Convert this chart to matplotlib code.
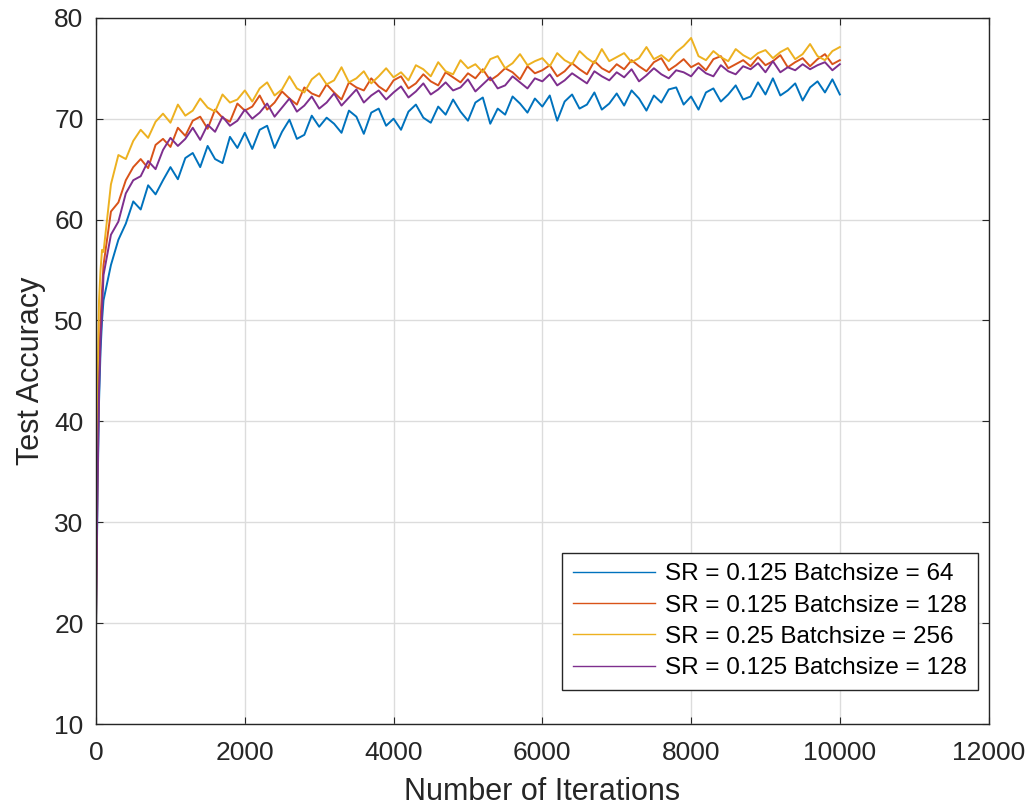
#coding:utf-8

#
# test accuracy vs number of iterations, four training settings (MATLAB style figure)
#

import numpy as np
import matplotlib
matplotlib.use('Agg')
from matplotlib import pyplot as plt

# iterations: dense start, then every 100
iters_start = [0, 20, 40, 60, 80]
iters_main = list(range(100, 10001, 100))
iters = iters_start + iters_main

labels = ['SR = 0.125 Batchsize = 64',
	'SR = 0.125 Batchsize = 128',
	'SR = 0.25 Batchsize = 256',
	'SR = 0.125 Batchsize = 128']
colors = ['#0072BD', '#D95319', '#EDB120', '#7E2F8E']

# SR = 0.125, batchsize 64
acc_64 = [20.0, 33.0, 42.0, 47.0, 50.0,
	52.0, 55.5, 58.0, 59.6, 61.8, 61.0, 63.4, 62.5, 63.9, 65.2,
	64.0, 66.1, 66.6, 65.2, 67.3, 66.0, 65.6, 68.2, 67.1, 68.6,
	67.0, 68.9, 69.3, 67.1, 68.7, 69.9, 68.0, 68.4, 70.3, 69.2,
	70.1, 69.5, 68.6, 70.8, 70.2, 68.5, 70.6, 71.0, 69.3, 70.0,
	68.9, 70.7, 71.4, 70.1, 69.6, 71.2, 70.4, 71.9, 70.7, 69.8,
	71.6, 72.1, 69.5, 71.0, 70.4, 72.2, 71.5, 70.6, 72.0, 71.2,
	72.3, 69.8, 71.7, 72.4, 71.0, 71.4, 72.6, 70.9, 71.5, 72.5,
	71.3, 72.8, 72.0, 70.8, 72.3, 71.6, 72.9, 73.1, 71.4, 72.2,
	70.9, 72.6, 73.0, 71.7, 72.4, 73.3, 71.9, 72.2, 73.6, 72.4,
	74.0, 72.3, 72.8, 73.5, 71.8, 73.1, 73.7, 72.6, 73.9, 72.4]

# SR = 0.125, batchsize 128
acc_128 = [20.0, 36.0, 45.0, 50.0, 53.0,
	55.5, 60.8, 61.7, 63.9, 65.2, 66.0, 65.1, 67.4, 68.0, 67.2,
	69.1, 68.3, 69.8, 70.2, 69.0, 70.9, 70.1, 69.7, 71.5, 70.8,
	71.2, 72.3, 70.9, 71.6, 72.7, 72.0, 71.4, 73.1, 72.5, 72.2,
	73.4, 72.6, 71.9, 73.6, 73.1, 72.8, 74.0, 73.2, 72.7, 73.8,
	74.2, 73.0, 73.5, 74.4, 73.7, 73.3, 74.6, 74.1, 73.6, 74.5,
	74.0, 74.9, 73.8, 74.3, 75.0, 74.6, 73.9, 75.2, 74.5, 74.8,
	75.3, 74.2, 74.7, 75.5, 74.9, 74.4, 75.7, 75.0, 74.6, 75.4,
	74.9, 75.8, 75.2, 74.7, 75.6, 76.0, 74.8, 75.3, 75.9, 75.1,
	75.5, 74.8, 75.9, 76.2, 75.0, 75.4, 75.8, 75.2, 76.1, 75.3,
	75.7, 76.3, 75.1, 75.6, 76.0, 75.2, 75.9, 76.4, 75.4, 75.8]

# SR = 0.25, batchsize 256
acc_256 = [28.0, 44.0, 52.0, 55.0, 57.0,
	56.8, 63.5, 66.4, 66.0, 67.8, 68.9, 68.1, 69.7, 70.5, 69.6,
	71.4, 70.3, 70.8, 72.0, 71.1, 70.7, 72.4, 71.6, 71.9, 72.8,
	71.7, 73.0, 73.6, 72.3, 72.9, 74.2, 73.0, 72.6, 73.9, 74.5,
	73.4, 73.8, 75.1, 73.6, 74.0, 74.7, 73.5, 74.2, 75.0, 74.1,
	74.6, 73.8, 75.3, 74.9, 74.2, 75.6, 74.7, 74.4, 75.8, 75.0,
	75.4, 74.6, 75.9, 76.2, 75.0, 75.5, 76.4, 75.3, 75.7, 76.0,
	75.2, 76.5, 75.8, 75.4, 76.7, 76.0, 75.5, 76.9, 75.7, 76.1,
	76.5, 75.6, 76.0, 77.1, 75.9, 76.3, 75.7, 76.6, 77.2, 78.0,
	76.2, 75.8, 76.7, 76.1, 75.7, 76.9, 76.3, 75.9, 76.5, 76.8,
	76.0, 76.6, 77.0, 75.9, 76.4, 77.4, 76.2, 75.8, 76.7, 77.1]

# SR = 0.125, batchsize 128 (second run)
acc_128b = [21.0, 34.0, 43.0, 48.0, 51.0,
	54.5, 58.5, 59.8, 62.6, 63.9, 64.3, 65.8, 65.0, 66.9, 68.1,
	67.3, 68.0, 69.1, 67.9, 69.4, 68.7, 70.2, 69.3, 69.8, 70.9,
	70.0, 70.6, 71.5, 70.2, 71.1, 72.0, 70.7, 71.3, 72.2, 71.0,
	71.6, 72.5, 71.3, 72.1, 72.9, 71.6, 72.3, 72.8, 71.9, 72.6,
	73.2, 72.1, 72.7, 73.5, 72.4, 72.9, 73.6, 72.8, 73.1, 73.9,
	72.7, 73.4, 74.1, 73.0, 73.3, 74.2, 73.6, 73.0, 74.0, 73.7,
	74.4, 73.3, 73.8, 74.5, 74.0, 73.5, 74.7, 74.2, 73.8, 74.6,
	74.1, 74.9, 73.7, 74.3, 75.0, 74.4, 74.0, 74.8, 74.6, 74.2,
	75.1, 74.5, 74.2, 75.3, 74.7, 74.4, 75.2, 74.9, 75.5, 74.6,
	75.7, 74.6, 75.1, 74.8, 75.4, 74.9, 75.3, 75.6, 74.8, 75.4]

series = [acc_64, acc_128, acc_256, acc_128b]

xticks = [0, 2000, 4000, 6000, 8000, 10000, 12000]
yticks = [10, 20, 30, 40, 50, 60, 70, 80]


if __name__ == '__main__':
	plt.rcParams['font.family'] = ['Liberation Sans', 'DejaVu Sans']

	fig = plt.figure(figsize=(10.33, 8.09), dpi=100)
	ax = fig.add_axes([0.093, 0.105, 0.864, 0.873])

	for acc, c, lb in zip(series, colors, labels):
		ax.plot(iters, acc, color=c, lw=1.4, label=lb)

	ax.set_xlim(0, 12000)
	ax.set_ylim(10, 80)
	ax.set_xticks(xticks)
	ax.set_yticks(yticks)
	ax.grid(True, color='#dcdcdc', lw=1.0)
	ax.set_axisbelow(True)
	ax.tick_params(direction='in', top=True, right=True, length=5,
		labelsize=19, colors='#262626', pad=9)
	ax.tick_params(axis='x', pad=12)
	for sp in ax.spines.values():
		sp.set_color('#262626')
		sp.set_linewidth(1.0)

	ax.set_xlabel('Number of Iterations', fontsize=22, color='#262626', labelpad=9)
	ax.set_ylabel('Test Accuracy', fontsize=22, color='#262626', labelpad=6)

	leg = ax.legend(loc='lower right', bbox_to_anchor=(0.988, 0.048), borderaxespad=0,
		fontsize=17.5, fancybox=False, framealpha=1, edgecolor='#262626',
		handlelength=3.4, handletextpad=0.4, labelspacing=0.38, borderpad=0.45)
	leg.get_frame().set_linewidth(1.0)
	for ln in leg.get_lines():
		ln.set_linewidth(1.0)

	fig.savefig('out.png', dpi=100)
